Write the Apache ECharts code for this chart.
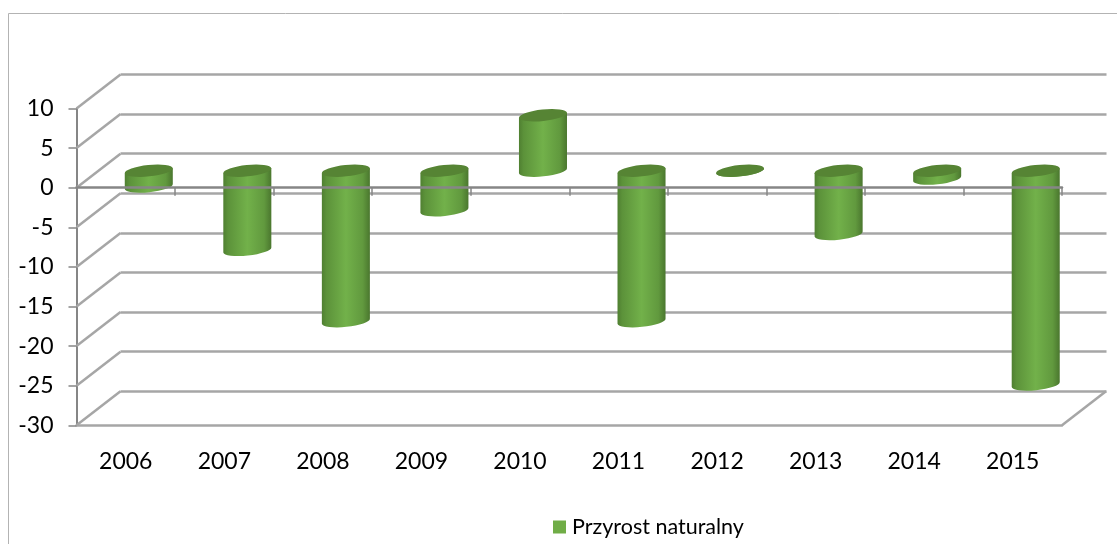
<!DOCTYPE html>
<html>
<head>
<meta charset="utf-8">
<style>
  html, body { margin: 0; padding: 0; background: #fff; }
  #main { width: 1117px; height: 544px; }
</style>
<script src="https://cdn.jsdelivr.net/npm/echarts@6/dist/echarts.min.js"></script>
</head>
<body>
<div id="main"></div>
<script>
var years = ['2006', '2007', '2008', '2009', '2010', '2011', '2012', '2013', '2014', '2015']
var przyrost = [-2, -10, -19, -5, 7, -19, 0, -8, -1, -27]
var yTicks = [10, 5, 0, -5, -10, -15, -20, -25, -30]

var depthX = 44
var depthY = 34
var lineColor = '#a6a6a6'
var axisColor = '#868686'
var fontName = 'Lato'

var chart = echarts.init(document.getElementById('main'))

function cylinder(params, api) {
  var i = api.value(0)
  var base = api.coord([i, 0])
  var end = api.coord([i, api.value(1)])
  var band = api.size([1, 0])[0]
  var rx = band * 0.245
  var ry = 5.7
  var tilt = 6 * Math.PI / 180
  var dx = rx * Math.cos(tilt)
  var dy = rx * Math.sin(tilt)
  var cx = base[0] + depthX / 2 + 1
  var topY = Math.min(base[1], end[1]) - depthY / 2
  var botY = Math.max(base[1], end[1]) - depthY / 2
  var arc = ' A ' + rx + ' ' + ry + ' -6 '
  var lx = cx - dx
  var rxp = cx + dx
  var body = 'M ' + lx + ' ' + (topY + dy) +
    ' L ' + lx + ' ' + (botY + dy) +
    arc + '0 0 ' + rxp + ' ' + (botY - dy) +
    ' L ' + rxp + ' ' + (topY - dy) + ' Z'
  var lid = 'M ' + lx + ' ' + (topY + dy) +
    arc + '1 1 ' + rxp + ' ' + (topY - dy) +
    arc + '1 1 ' + lx + ' ' + (topY + dy) + ' Z'
  return {
    type: 'group',
    children: [
      {
        type: 'path',
        shape: { pathData: body },
        style: {
          fill: new echarts.graphic.LinearGradient(0, 0, 1, 0, [
            { offset: 0, color: '#4f7f31' },
            { offset: 0.1, color: '#5c923a' },
            { offset: 0.5, color: '#72b14a' },
            { offset: 0.85, color: '#61993e' },
            { offset: 1, color: '#4a762e' }
          ]),
          stroke: null
        }
      },
      {
        type: 'path',
        shape: { pathData: lid },
        style: { fill: '#568434', stroke: null }
      }
    ]
  }
}

function depthLines(params, api) {
  var v = api.value(1)
  var y = api.coord([0, v])[1]
  var sys = params.coordSys
  var style = { stroke: lineColor, lineWidth: 2.5 }
  var children = [{
    type: 'line',
    shape: { x1: sys.x, y1: y, x2: sys.x + depthX, y2: y - depthY },
    style: style
  }]
  if (v === yTicks[yTicks.length - 1]) {
    children.push({
      type: 'line',
      shape: { x1: sys.x + sys.width, y1: y, x2: sys.x + sys.width + depthX, y2: y - depthY },
      style: style
    })
  }
  return { type: 'group', children: children }
}

var option = {
  backgroundColor: '#fff',
  animation: false,
  textStyle: { fontFamily: fontName },
  grid: [
    { left: 76.5, top: 108.5, width: 985.5, height: 316.8 },
    { left: 120.5, top: 74.5, width: 986, height: 316.8 }
  ],
  xAxis: [
    {
      // labels and front edge of the floor
      type: 'category',
      gridIndex: 0,
      data: years,
      axisLine: { onZero: false, lineStyle: { color: lineColor, width: 2.5 } },
      axisTick: { show: false },
      axisLabel: { color: '#000', fontSize: 23, fontFamily: fontName, margin: 25 }
    },
    {
      // line at zero with its ticks
      type: 'category',
      gridIndex: 0,
      position: 'bottom',
      data: years,
      z: 10,
      axisLine: { onZero: true, lineStyle: { color: axisColor, width: 2.5 } },
      axisTick: { show: true, length: 8, lineStyle: { color: axisColor, width: 1.5 } },
      axisLabel: { show: false }
    },
    { type: 'category', gridIndex: 1, data: years, show: false }
  ],
  yAxis: [
    {
      type: 'value',
      gridIndex: 0,
      min: -30,
      max: 10,
      interval: 5,
      axisLine: { show: true, lineStyle: { color: axisColor, width: 2 } },
      axisTick: { show: true, length: 8, lineStyle: { color: axisColor, width: 1.5 } },
      axisLabel: { color: '#000', fontSize: 23, fontFamily: fontName, margin: 23 },
      splitLine: { show: false }
    },
    {
      type: 'value',
      gridIndex: 1,
      min: -30,
      max: 10,
      interval: 5,
      axisLine: { show: false },
      axisTick: { show: false },
      axisLabel: { show: false },
      splitLine: { show: true, lineStyle: { color: lineColor, width: 2.5 } }
    }
  ],
  legend: {
    left: 548,
    top: 511,
    icon: 'rect',
    itemWidth: 13,
    itemHeight: 13,
    itemGap: 6,
    data: ['Przyrost naturalny'],
    textStyle: { color: '#000', fontSize: 21.5, fontFamily: fontName, padding: [0, 0, 0, 1] }
  },
  graphic: [
    {
      type: 'polyline',
      silent: true,
      shape: { points: [[8.5, 544], [8.5, 13.5], [1117, 13.5]] },
      style: { stroke: '#b3b3b3', lineWidth: 1, fill: null }
    }
  ],
  series: [
    {
      type: 'custom',
      name: 'depth',
      xAxisIndex: 0,
      yAxisIndex: 0,
      z: 1,
      silent: true,
      renderItem: depthLines,
      data: yTicks.map(function (v) { return [0, v] })
    },
    {
      type: 'custom',
      name: 'Przyrost naturalny',
      xAxisIndex: 0,
      yAxisIndex: 0,
      z: 3,
      renderItem: cylinder,
      itemStyle: { color: '#70ad47' },
      data: przyrost.map(function (v, i) { return [i, v] })
    }
  ]
}

chart.setOption(option)
</script>
</body>
</html>
